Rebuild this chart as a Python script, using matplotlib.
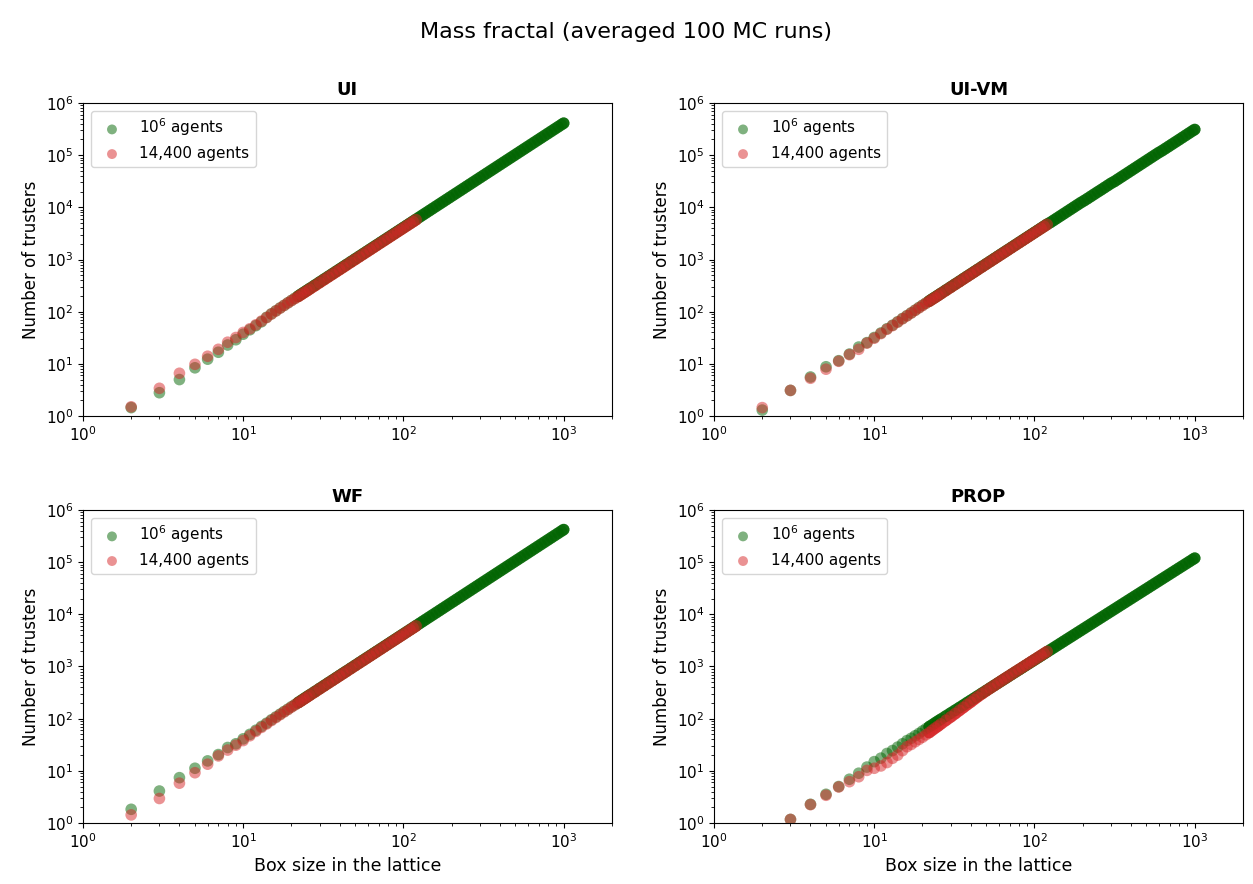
import numpy as np
import matplotlib
matplotlib.use("Agg")
import matplotlib.pyplot as plt

# box sizes (lattice side length) -- red runs stop at 120 (14,400 = 120^2 agents)
box_sizes = [2, 3, 4, 5, 6, 7, 8, 9, 10, 11, 12, 13, 14, 15, 16, 17, 18, 19, 20,
             21, 22, 23, 24, 25, 26, 28, 30, 32, 34, 36, 38, 40, 42, 44,
             47, 50, 53, 56, 59, 62, 65, 68, 72, 76, 80, 84, 88, 92, 96, 100, 105, 110, 115, 120,
             126, 132, 138, 145, 152, 160, 168, 176, 185, 194, 204, 214, 225, 236, 248, 260,
             273, 287, 301, 316, 332, 349, 366, 384, 403, 423, 444, 466, 489, 513, 539, 566,
             594, 624, 655, 688, 722, 758, 796, 836, 878, 922, 968, 1000]
box_sizes_small = box_sizes[:54]

ui_big = [1.45, 2.8, 5.0, 8.4, 12.3, 16.7, 23, 29, 37, 45, 54, 64, 78, 91, 104, 118, 132, 148, 164,
          181, 198, 217, 236, 256, 277, 321, 369, 420, 474, 531, 592, 656, 723, 794,
          906, 1025, 1152, 1286, 1427, 1576, 1732, 1896, 2125, 2368, 2624, 2893, 3175, 3470, 3779, 4100, 4520, 4961, 5422, 5904,
          6509, 7144, 7808, 8620, 9473, 10496, 11572, 12700, 14032, 15431, 17063, 18776, 20756, 22835, 25217, 27716,
          30557, 33771, 37146, 40941, 45192, 49938, 54922, 60457, 66588, 73361, 80826, 89034, 98040, 107899, 119114, 131346,
          144663, 159644, 175900, 194071, 213726, 235571, 259783, 286547, 316062, 348534, 384180, 410000]
ui_small = [1.5, 3.4, 6.6, 9.8, 14, 19, 26, 32, 40, 47, 56, 66, 77, 90, 103, 117, 132, 147, 163,
            178, 195, 213, 232, 251, 272, 315, 362, 412, 465, 521, 581, 643, 709, 779,
            889, 1005, 1130, 1262, 1400, 1546, 1700, 1860, 2085, 2323, 2574, 2838, 3115, 3405, 3708, 4022, 4435, 4867, 5320, 5792]

uivm_big = [1.3, 3.1, 5.6, 8.8, 11.5, 15.4, 21, 25.5, 32, 39, 47, 55, 64, 74, 84, 95, 107, 120, 133,
            146, 160, 175, 190, 206, 223, 259, 297, 338, 381, 428, 477, 528, 582, 639,
            729, 825, 927, 1035, 1149, 1269, 1394, 1526, 1711, 1906, 2112, 2328, 2556, 2793, 3041, 3300, 3638, 3993, 4364, 4752,
            5160, 5663, 6189, 6833, 7509, 8320, 9173, 10067, 11123, 12232, 13400, 14700, 16250, 17880, 19740, 21630,
            23850, 26360, 28990, 31450, 34720, 38370, 42200, 46450, 51160, 56360, 62100, 68400, 75320, 82900, 91510, 100900,
            111100, 121300, 133500, 147200, 162100, 178600, 196800, 217300, 239600, 264300, 291300, 310000]
uivm_small = [1.45, 3.1, 5.3, 7.9, 11.2, 15, 19, 25, 31, 38, 46, 54, 63, 73, 83, 94, 106, 118, 131,
              145, 158, 173, 188, 204, 221, 256, 294, 335, 377, 424, 472, 523, 576, 633,
              722, 817, 918, 1025, 1137, 1256, 1380, 1511, 1694, 1887, 2091, 2305, 2530, 2765, 3011, 3267, 3602, 3953, 4320, 4704]

wf_big = [1.83, 4.1, 7.4, 11.2, 15.5, 20.5, 28, 33, 41, 50, 60, 71, 82, 95, 108, 122, 137, 152, 169,
          185, 203, 222, 242, 263, 284, 329, 378, 430, 486, 544, 606, 672, 741, 813,
          928, 1050, 1180, 1317, 1462, 1614, 1775, 1942, 2177, 2426, 2688, 2964, 3252, 3555, 3871, 4200, 4631, 5082, 5555, 6048,
          6668, 7318, 7998, 8831, 9704, 10750, 11850, 13010, 14370, 15810, 17480, 19230, 21260, 23390, 25830, 28390,
          31300, 34590, 38050, 41940, 46290, 51160, 56260, 61930, 68210, 75150, 82800, 91210, 100400, 110500, 122000, 134500,
          148200, 163500, 180200, 198800, 218900, 241300, 266100, 293500, 323800, 357000, 393600, 420000]
wf_small = [1.43, 2.95, 5.8, 9.2, 13.4, 19.3, 25, 31, 38, 47, 57, 68, 79, 92, 105, 119, 134, 149, 166,
            183, 201, 219, 239, 259, 281, 325, 374, 425, 480, 538, 599, 664, 732, 803,
            917, 1038, 1166, 1301, 1445, 1595, 1753, 1919, 2151, 2397, 2656, 2928, 3214, 3513, 3825, 4150, 4575, 5022, 5488, 5976]

# PROP: box size 2 is below 1 truster, off the chart -> starts at 3
prop_big = [1.17, 2.28, 3.55, 5.0, 6.9, 9.0, 11.8, 15, 17.5, 21.5, 24.5, 28.5, 33, 38, 42, 47, 52, 58,
            64, 70, 76, 83, 90, 97, 112, 128, 145, 163, 182, 203, 224, 246, 270,
            307, 346, 388, 432, 478, 526, 577, 630, 705, 783, 865, 951, 1042, 1136, 1235, 1337, 1470, 1610, 1755, 1908,
            2098, 2297, 2505, 2759, 3025, 3344, 3677, 4026, 4439, 4869, 5369, 5893, 6498, 7131, 7856, 8616,
            9477, 10450, 11460, 12600, 13880, 15300, 16780, 18430, 20250, 22260, 24450, 26870, 29520, 32400, 35690, 39260,
            43140, 47500, 52210, 57460, 63130, 69420, 76380, 84000, 92440, 101700, 111800, 119100]
prop_small = [1.17, 2.25, 3.4, 4.9, 6.2, 7.7, 10.2, 11.2, 12.4, 14.4, 17.4, 20, 24.4, 29, 32, 36, 40, 44,
              49, 54, 60, 66, 72, 79, 93, 108, 125, 144, 164, 186, 208, 234, 260,
              300, 342, 385, 430, 478, 528, 580, 634, 710, 790, 873, 960, 1052, 1148, 1248, 1352, 1487, 1630, 1778, 1935]

panels = [
    ("UI", box_sizes, ui_big, box_sizes_small, ui_small),
    ("UI-VM", box_sizes, uivm_big, box_sizes_small, uivm_small),
    ("WF", box_sizes, wf_big, box_sizes_small, wf_small),
    ("PROP", box_sizes[1:], prop_big, box_sizes_small[1:], prop_small),
]

MS = 70                      # marker area
LW = np.sqrt(MS)             # band width = marker diameter (pt)
DENSE_FROM = 22              # above this box size the runs overlap into a solid band


def draw_series(ax, x, y, color, label):
    x = np.asarray(x)
    y = np.asarray(y)
    dense = x >= DENSE_FROM
    # the real runs are one point per integer box size, so they pile up into a band
    ax.plot(x[dense], y[dense], color=color, lw=LW, alpha=0.85,
            solid_capstyle="round", zorder=2)
    ax.scatter(x, y, s=MS, color=color, alpha=0.5, edgecolors="none",
               label=label, zorder=3)


fig, axes = plt.subplots(2, 2, figsize=(12.53, 8.84), dpi=100)
plt.subplots_adjust(left=0.0662, right=0.992, top=0.8835, bottom=0.069,
                    wspace=0.193, hspace=0.300)
fig.suptitle("Mass fractal (averaged 100 MC runs)", fontsize=16, y=0.975)

for ax, (name, xb, yb, xs, ys) in zip(axes.flat, panels):
    draw_series(ax, xb, yb, "darkgreen", "$10^6$ agents")
    draw_series(ax, xs, ys, "tab:red", "14,400 agents")
    ax.set_xscale("log")
    ax.set_yscale("log")
    ax.set_xlim(1, 2000)
    ax.set_ylim(1, 1e6)
    ax.set_title(name, fontsize=13, fontweight="bold")
    ax.set_ylabel("Number of trusters", fontsize=12)
    ax.tick_params(labelsize=11)
    ax.legend(loc="upper left", fontsize=11, markerscale=0.85)

for ax in axes[1]:
    ax.set_xlabel("Box size in the lattice", fontsize=12.5)

plt.savefig("out.png", dpi=100)
